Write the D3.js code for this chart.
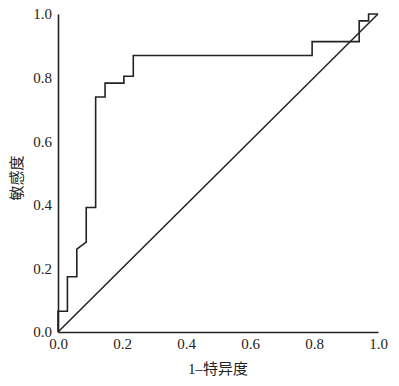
<!DOCTYPE html>
<html lang="zh">
<head>
    <meta charset="UTF-8">
    <title>ROC</title>
    <style>
        body { margin: 0; background: #fff; }
        .tick-label { font-family: "Liberation Serif", "DejaVu Serif", serif; font-size: 15px; fill: #222; }
        .axis-title { font-family: "Liberation Serif", "Noto Sans CJK SC", serif; font-size: 15px; fill: #222; }
    </style>
    <script src="https://d3js.org/d3.v7.min.js"></script>
</head>
<body>
    <div id="chart"></div>
    <script>
// ROC points (1-specificity, sensitivity)
const fpr = [0, 0, 1/34, 1/34, 2/34, 2/34, 3/34, 3/34, 4/34, 4/34, 5/34, 5/34, 7/34, 7/34, 8/34, 8/34, 27/34, 27/34, 32/34, 32/34, 33/34, 33/34, 1];
const tpr = [0, 3/46, 3/46, 8/46, 8/46, 12/46, 13/46, 18/46, 18/46, 34/46, 34/46, 36/46, 36/46, 37/46, 37/46, 40/46, 40/46, 42/46, 42/46, 45/46, 45/46, 1, 1];
const tickValues = [0, 0.2, 0.4, 0.6, 0.8, 1.0];
const xTitle = "1\u2013特异度";
const yTitle = "敏感度";

const W = 399, H = 386;
const margin = {left: 58, right: 21, top: 14, bottom: 54};

const svg = d3.select("#chart")
    .append("svg")
    .attr("width", W)
    .attr("height", H);

const x = d3.scaleLinear().domain([0, 1]).range([margin.left, W - margin.right]);
const y = d3.scaleLinear().domain([0, 1]).range([H - margin.bottom, margin.top]);

// axes (no tick marks)
svg.append("g")
    .attr("transform", "translate(0," + y(0) + ")")
    .call(d3.axisBottom(x).tickValues(tickValues).tickSize(0).tickPadding(6).tickFormat(d3.format(".1f")))
    .attr("font-family", null).attr("font-size", null)
    .call(g => g.select(".domain").attr("stroke", "#222").attr("stroke-width", 1.6))
    .call(g => g.selectAll("text").attr("class", "tick-label").attr("dy", "0.75em"));

svg.append("g")
    .attr("transform", "translate(" + x(0) + ",0)")
    .call(d3.axisLeft(y).tickValues(tickValues).tickSize(0).tickPadding(6).tickFormat(d3.format(".1f")))
    .attr("font-family", null).attr("font-size", null)
    .call(g => g.select(".domain").attr("stroke", "#222").attr("stroke-width", 1.6))
    .call(g => g.selectAll("text").attr("class", "tick-label"));

// reference diagonal
svg.append("path")
    .datum([[0, 0], [1, 1]])
    .attr("fill", "none")
    .attr("stroke", "#222")
    .attr("stroke-width", 1.5)
    .attr("d", d3.line().x(d => x(d[0])).y(d => y(d[1])));

// ROC curve
svg.append("path")
    .datum(d3.zip(fpr, tpr))
    .attr("fill", "none")
    .attr("stroke", "#222")
    .attr("stroke-width", 1.6)
    .attr("d", d3.line().x(d => x(d[0])).y(d => y(d[1])));

// titles
svg.append("text")
    .attr("class", "axis-title")
    .attr("x", (x(0) + x(1)) / 2)
    .attr("y", 374)
    .attr("text-anchor", "middle")
    .text(xTitle);

svg.append("text")
    .attr("class", "axis-title")
    .attr("transform", "translate(22," + (y(0.5) + 5) + ") rotate(-90)")
    .attr("text-anchor", "middle")
    .text(yTitle);
    </script>
</body>
</html>
